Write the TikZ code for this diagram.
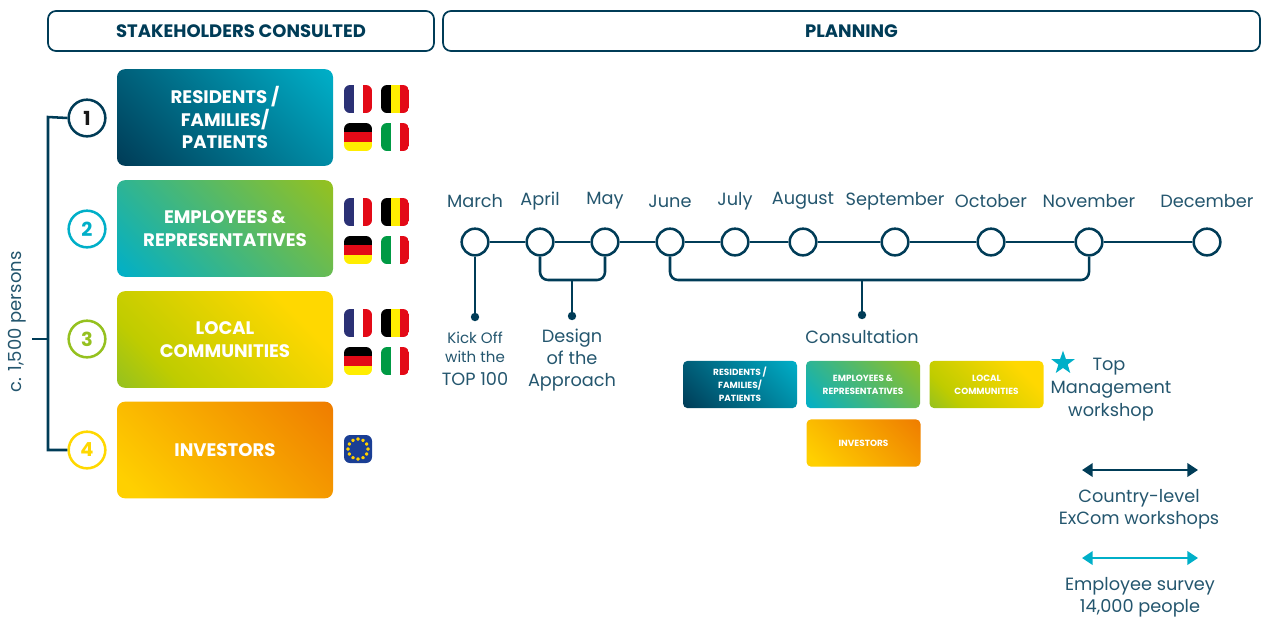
\documentclass[tikz,border=0pt]{standalone}
\usepackage{fontspec}
\setmainfont{Poppins}
\usetikzlibrary{arrows.meta,shapes.geometric}
\definecolor{navy}{HTML}{003C57}
\definecolor{txt}{HTML}{24566E}
\definecolor{cyanx}{HTML}{00AFC8}
\definecolor{greenx}{HTML}{95C11F}
\definecolor{limex}{HTML}{BFCC00}
\definecolor{yelx}{HTML}{FFD800}
\definecolor{ambx}{HTML}{FFD000}
\definecolor{orax}{HTML}{EF7D00}
\definecolor{frb}{HTML}{2B3175}
\definecolor{frr}{HTML}{E30A17}
\definecolor{bey}{HTML}{FFED00}
\definecolor{itg}{HTML}{009A44}
\definecolor{eub}{HTML}{1A3E94}
\pgfdeclareverticalshading{gradA}{100bp}{color(0bp)=(navy); color(15bp)=(navy); color(85bp)=(cyanx); color(100bp)=(cyanx)}
\pgfdeclareverticalshading{gradB}{100bp}{color(0bp)=(cyanx); color(15bp)=(cyanx); color(85bp)=(greenx); color(100bp)=(greenx)}
\pgfdeclareverticalshading{gradC}{100bp}{color(0bp)=(greenx); color(15bp)=(greenx); color(30bp)=(limex); color(72bp)=(yelx); color(100bp)=(yelx)}
\pgfdeclareverticalshading{gradD}{100bp}{color(0bp)=(ambx); color(20bp)=(ambx); color(85bp)=(orax); color(100bp)=(orax)}
\tikzset{
  x=0.75pt,y=-0.75pt,
  header/.style={draw=navy,line width=1.3pt,rounded corners=6pt,text=navy,font=\fontsize{13.5}{16}\selectfont\bfseries,anchor=center},
  bigbox/.style={rounded corners=6pt,minimum width=162pt,minimum height=72.5pt,shading angle=-45,text=white,align=center,font=\fontsize{13.6}{16.8}\selectfont\bfseries,inner sep=0pt},
  smallbox/.style={rounded corners=3.5pt,minimum width=85.5pt,minimum height=35.5pt,shading angle=-45,text=white,align=center,font=\fontsize{6.7}{9.6}\selectfont\bfseries,inner sep=0pt},
  numc/.style={circle,draw=#1,line width=1.9pt,fill=white,minimum size=27.5pt,inner sep=0pt,font=\fontsize{14.5}{16}\selectfont\bfseries,text=#1},
  mon/.style={circle,draw=navy,line width=1.9pt,fill=white,minimum size=20pt,inner sep=0pt},
  link/.style={draw=navy,line width=1.9pt},
  dot/.style={circle,fill=navy,minimum size=6.3pt,inner sep=0pt},
  mlabel/.style={text=txt,font=\fontsize{13.3}{16}\selectfont,anchor=center,inner sep=0pt},
  tlabel/.style={text=txt,font=\fontsize{13.3}{16.8}\selectfont,align=center,inner sep=0pt},
  flag/.pic={},
  pics/fr/.style={code={\begin{scope}\clip[rounded corners=4.5pt](0,0) rectangle (28,28);
     \fill[white](0,0) rectangle (28,28);\fill[frb](0,0) rectangle (9.5,28);\fill[frr](18.5,0) rectangle (28,28);\end{scope}}},
  pics/be/.style={code={\begin{scope}\clip[rounded corners=4.5pt](0,0) rectangle (28,28);
     \fill[black](0,0) rectangle (9.5,28);\fill[bey](9.5,0) rectangle (18.5,28);\fill[frr](18.5,0) rectangle (28,28);\end{scope}}},
  pics/de/.style={code={\begin{scope}\clip[rounded corners=4.5pt](0,0) rectangle (28,28);
     \fill[black](0,0) rectangle (28,9);\fill[frr](0,9) rectangle (28,19);\fill[bey](0,19) rectangle (28,28);\end{scope}}},
  pics/it/.style={code={\begin{scope}\clip[rounded corners=4.5pt](0,0) rectangle (28,28);
     \fill[white](0,0) rectangle (28,28);\fill[itg](0,0) rectangle (9.5,28);\fill[frr](18.5,0) rectangle (28,28);\end{scope}}},
}
\begin{document}
\begin{tikzpicture}
\useasboundingbox (0,0) rectangle (1266,619);
% headers
\node[header,minimum width=289.5pt,minimum height=30pt] (h1) at (241,31) {STAKEHOLDERS CONSULTED};
\node[header,minimum width=612.7pt,minimum height=30pt] (h2) at (851.5,31) {PLANNING};
% big boxes
\node[bigbox,shading=gradA] (b1) at (225,117.5) {RESIDENTS /\\FAMILIES/\\PATIENTS};
\node[bigbox,shading=gradB] (b2) at (225,228.5) {EMPLOYEES \&\\REPRESENTATIVES};
\node[bigbox,shading=gradC] (b3) at (225,339.5) {LOCAL\\COMMUNITIES};
\node[bigbox,shading=gradD] (b4) at (225,450) {INVESTORS};
% number circles
\node[numc=navy] (c1) at (87,118) {\textcolor{black!90}{1}};
\node[numc=cyanx] (c2) at (87,229) {2};
\node[numc=greenx] (c3) at (87,339) {3};
\node[numc=yelx] (c4) at (87,450) {4};
% bracket
\coordinate (bt) at (48,117);
\coordinate (bb) at (48,450);
\coordinate (bm) at (48,339);
\coordinate (bs) at (32,339);
\draw[link,line join=miter] (c1.west) -- (bt) -- (bb) -- (c4.west);
\draw[link] (bs) -- (bm);
\node[text=txt,font=\fontsize{13.5}{16}\selectfont,rotate=90,inner sep=0pt] (tot) at (17,322) {c. 1,500 persons};
% flags
\foreach \yy in {85,198,309}{
  \pic at (344,\yy) {fr};
  \pic at (381,\yy) {be};
  \pic at (344,\yy+38) {de};
  \pic at (381,\yy+38) {it};
}
\begin{scope}
\fill[eub,rounded corners=4.5pt](344,435) rectangle (372,463);
\foreach \a in {0,30,...,330}{
  \begin{scope}[shift={(358,449)},shift={(\a:10)}]
  \fill[ambx] (90:1.7)--(162:1.7)--(234:1.7)--(306:1.7)--(18:1.7)--cycle;
  \fill[ambx] (-90:1.6)--(-18:1.6)--(54:1.6)--(126:1.6)--(198:1.6)--cycle;
  \end{scope}
}
\end{scope}
% timeline
\node[mon] (m1) at (475,242) {};
\node[mon] (m2) at (540,242) {};
\node[mon] (m3) at (605,242) {};
\node[mon] (m4) at (670,242) {};
\node[mon] (m5) at (735,242) {};
\node[mon] (m6) at (803,242) {};
\node[mon] (m7) at (895,242) {};
\node[mon] (m8) at (991,242) {};
\node[mon] (m9) at (1089,242) {};
\node[mon] (m10) at (1207,242) {};
\foreach \a/\b in {m1/m2,m2/m3,m3/m4,m4/m5,m5/m6,m6/m7,m7/m8,m8/m9,m9/m10}{\draw[link] (\a) -- (\b);}
\node[mlabel] (l1) at (475,201) {March};
\node[mlabel] (l2) at (540,201) {April};
\node[mlabel] (l3) at (605,201) {May};
\node[mlabel] (l4) at (670,201) {June};
\node[mlabel] (l5) at (735,201) {July};
\node[mlabel] (l6) at (803,201) {August};
\node[mlabel] (l7) at (895,201) {September};
\node[mlabel] (l8) at (991,201) {October};
\node[mlabel] (l9) at (1089,201) {November};
\node[mlabel] (l10) at (1207,201) {December};
% drops
\node[dot] (d1) at (475,317) {};
\node[dot] (d2) at (572,316) {};
\node[dot] (d3) at (862,315) {};
\coordinate (j2) at (572,280);
\coordinate (j3) at (862,280);
\draw[link] (m1) -- (d1);
\draw[link,rounded corners=6pt] (m2.south) |- (j2) -| (m3.south);
\draw[link] (j2) -- (d2);
\draw[link,rounded corners=6pt] (m4.south) |- (j3) -| (m9.south);
\draw[link] (j3) -- (d3);
% labels below
\node[tlabel,font=\fontsize{11.3}{14.5}\selectfont] (k1) at (475,347) {Kick Off\\with the};
\node[tlabel] (k2) at (475,379) {TOP 100};
\node[tlabel] (k3) at (572,360) {Design\\of the\\Approach};
\node[tlabel] (k4) at (862,337) {Consultation};
% small boxes
\node[smallbox,shading=gradA] (s1) at (740,384.5) {RESIDENTS /\\FAMILIES/\\PATIENTS};
\node[smallbox,shading=gradB] (s2) at (863,384.5) {EMPLOYEES \&\\REPRESENTATIVES};
\node[smallbox,shading=gradC] (s3) at (986.5,384.5) {LOCAL\\COMMUNITIES};
\node[smallbox,shading=gradD] (s4) at (863.5,443) {INVESTORS};
% star
\node[star,star points=5,star point ratio=2.5,fill=cyanx,minimum size=18.5pt,inner sep=0pt] (st) at (1063,363) {};
\node[tlabel,anchor=center] (t1) at (1109,367) {Top};
\node[tlabel] (t2) at (1111,401) {Management\\workshop};
% arrows
\coordinate (a1) at (1082,470);
\coordinate (a2) at (1198,470);
\coordinate (a3) at (1082,558);
\coordinate (a4) at (1198,558);
\draw[navy,line width=1.9pt,{Triangle[length=8pt,width=10pt]}-{Triangle[length=8pt,width=10pt]}] (a1) -- (a2);
\draw[cyanx,line width=1.9pt,{Triangle[length=8pt,width=10pt]}-{Triangle[length=8pt,width=10pt]}] (a3) -- (a4);
\node[tlabel] (t3) at (1139,509) {Country-level\\ExCom workshops};
\node[tlabel] (t4) at (1140,597) {Employee survey\\14,000 people};
\end{tikzpicture}
\end{document}
